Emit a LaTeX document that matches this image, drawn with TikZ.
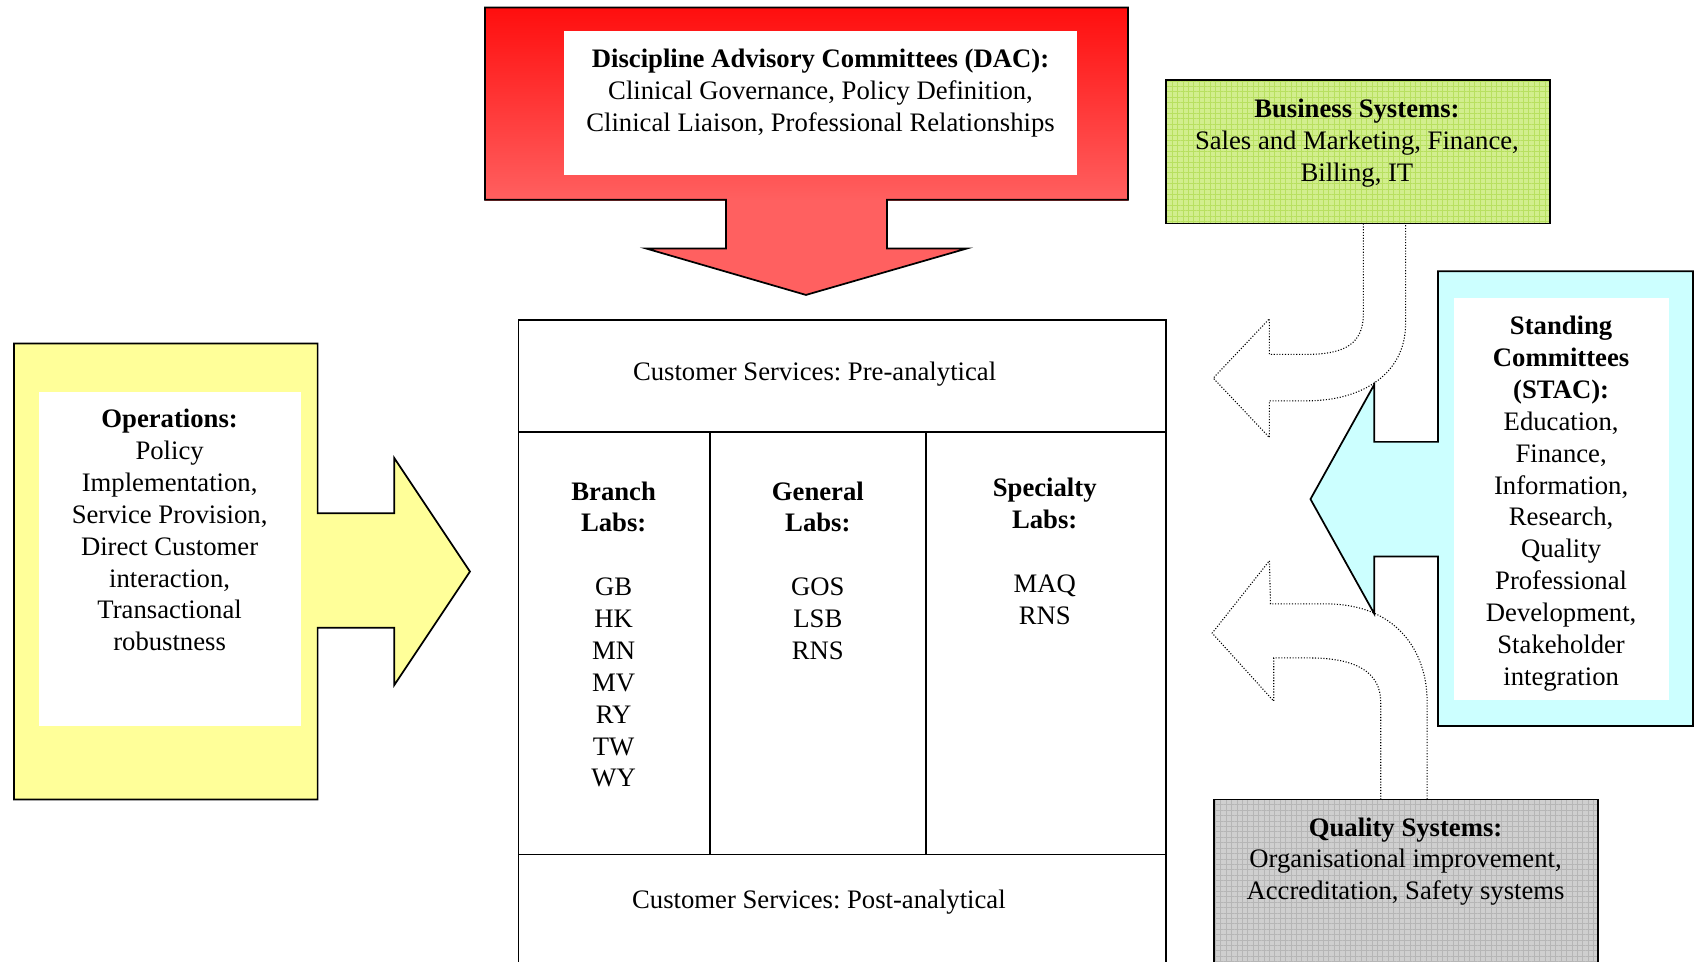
\documentclass[tikz,border=0pt]{standalone}
\usepackage{fontspec}
\setmainfont{Liberation Serif}
\usetikzlibrary{patterns.meta}
\frenchspacing
\definecolor{dacred}{HTML}{FF0E0E}
\definecolor{dacsalmon}{HTML}{FF6060}
\definecolor{opsyellow}{HTML}{FFFF99}
\definecolor{stacyan}{HTML}{CCFFFF}
\definecolor{busgreen}{HTML}{D2EE8E}
\definecolor{busgrid}{HTML}{B8E060}
\definecolor{qualgray}{HTML}{CFCFCF}
\definecolor{qualgrid}{HTML}{B6B6B6}
\tikzset{
  outline/.style={draw=black, line width=1.6pt, line join=miter},
  thinline/.style={draw=black, line width=1.6pt},
  dotline/.style={draw=black, line width=1pt, dash pattern=on 1pt off 1.6pt},
  txt/.style={align=center, inner sep=0pt, anchor=north, font=\fontsize{24.7}{29.5}\selectfont\frenchspacing},
  gridfill/.style={pattern={Hatch[distance=5pt, angle=0, line width=0.7pt]}, pattern color=#1},
}
\begin{document}
\begin{tikzpicture}[x=1pt,y=-1pt]
\useasboundingbox (0,0) rectangle (1568,890);
\fill[white] (0,0) rectangle (1568,890);

% ---- Red DAC arrow ----
\fill[dacsalmon] (449,7) -- (1044,7) -- (1044,185) -- (821,185) -- (821,230) -- (895,230)
  -- (746,273) -- (598,230) -- (672,230) -- (672,185) -- (449,185) -- cycle;
\shade[top color=dacred, bottom color=dacsalmon] (449,7) rectangle (1044,186);
\draw[outline] (449,7) -- (1044,7) -- (1044,185) -- (821,185) -- (821,230) -- (895,230)
  -- (746,273) -- (598,230) -- (672,230) -- (672,185) -- (449,185) -- cycle;
\fill[white] (522,29) rectangle (997,162);
\node[txt] (dac) at (759.5,42) {\strut\textbf{Discipline Advisory Committees (DAC):}\\
  Clinical Governance, Policy Definition,\\Clinical Liaison, Professional Relationships};

% ---- Business systems ----
\fill[busgreen] (1079,74) rectangle (1435,207);
\fill[gridfill=busgrid] (1079,74) rectangle (1435,207);
\draw[outline] (1079,74) rectangle (1435,207);
\node[txt] (bus) at (1256,88) {\strut\textbf{Business Systems:}\\Sales and Marketing, Finance,\\Billing, IT};

% ---- Quality systems ----
\fill[qualgray] (1124,740) rectangle (1479,895);
\fill[gridfill=qualgrid] (1124,740) rectangle (1479,895);
\draw[outline] (1124,895) -- (1124,740) -- (1479,740) -- (1479,895);
\node[txt] (qual) at (1301,753) {\strut\textbf{Quality Systems:}\\Organisational improvement,\\Accreditation, Safety systems};

% ---- Dotted hollow arrow from Business Systems ----
\coordinate (busL) at (1262,207);
\coordinate (busR) at (1301,207);
\draw[dotline] (busL) -- (1262,290) .. controls (1262,318) and (1245,328) .. (1210,328) -- (1175,328)
  -- (1175,295) -- (1123,350) -- (1175,405) -- (1175,371) -- (1210,371)
  .. controls (1262,371) and (1301,345) .. (1301,300) -- (busR);

% ---- Dotted hollow arrow from Quality Systems ----
\coordinate (qualL) at (1278,740);
\coordinate (qualR) at (1321,740);
\draw[dotline] (qualL) -- (1278,650) .. controls (1278,622) and (1255,609) .. (1212,609) -- (1179,609)
  -- (1179,649) -- (1122,586) -- (1175,519) -- (1176,559) -- (1228,559)
  .. controls (1290,559) and (1321,600) .. (1321,650) -- (qualR);

% ---- Standing committees (cyan) ----
\fill[stacyan] (1331,251) -- (1567,251) -- (1567,672) -- (1331,672) -- (1331,515) -- (1272,515)
  -- (1272,568) -- (1213,462) -- (1272,356) -- (1272,409) -- (1331,409) -- cycle;
\draw[outline] (1331,251) -- (1567,251) -- (1567,672) -- (1331,672) -- (1331,515) -- (1272,515)
  -- (1272,568) -- (1213,462) -- (1272,356) -- (1272,409) -- (1331,409) -- cycle;
\fill[white] (1346,276) rectangle (1545,648);
\node[txt] (stac) at (1445,289) {\strut\textbf{Standing}\\\textbf{Committees}\\\textbf{(STAC):}\\
  Education,\\Finance,\\Information,\\Research,\\Quality\\Professional\\Development,\\Stakeholder\\integration};

% ---- Operations (yellow) ----
\fill[opsyellow] (13,318) -- (294,318) -- (294,475) -- (365,475) -- (365,424) -- (435,529)
  -- (365,634) -- (365,581) -- (294,581) -- (294,740) -- (13,740) -- cycle;
\draw[outline] (13,318) -- (294,318) -- (294,475) -- (365,475) -- (365,424) -- (435,529)
  -- (365,634) -- (365,581) -- (294,581) -- (294,740) -- (13,740) -- cycle;
\fill[white] (36,363) rectangle (279,672);
\node[txt] (ops) at (157,375) {\strut\textbf{Operations:}\\Policy\\Implementation,\\Service Provision,\\
  Direct Customer\\interaction,\\Transactional\\robustness};

% ---- Central box ----
\draw[thinline] (480,895) -- (480,296) -- (1079,296) -- (1079,895);
\draw[thinline] (480,400) -- (1079,400);
\draw[thinline] (480,791) -- (1079,791);
\draw[thinline] (657,400) -- (657,791);
\draw[thinline] (857,400) -- (857,791);
\node[txt] (pre) at (754,331) {\strut Customer Services: Pre-analytical};
\node[txt] (post) at (758,820) {\strut Customer Services: Post-analytical};
\node[txt] (branch) at (568,442) {\strut\textbf{Branch}\\\textbf{Labs:}\\\strut\\GB\\HK\\MN\\MV\\RY\\TW\\WY};
\node[txt] (general) at (757,442) {\strut\textbf{General}\\\textbf{Labs:}\\\strut\\GOS\\LSB\\RNS};
\node[txt] (special) at (967,439) {\strut\textbf{Specialty}\\\textbf{Labs:}\\\strut\\MAQ\\RNS};
\end{tikzpicture}
\end{document}
